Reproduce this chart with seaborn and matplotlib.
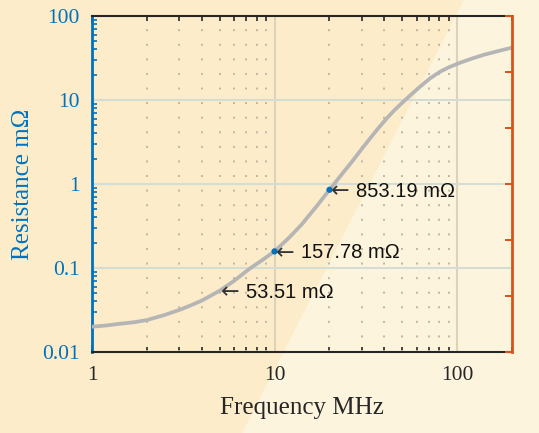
import numpy as np
import pandas as pd
import matplotlib
matplotlib.use("Agg")
import matplotlib.pyplot as plt
from matplotlib.patches import Polygon
from matplotlib.ticker import LogLocator, NullFormatter, FixedLocator, FixedFormatter
import seaborn as sns

# Resistance vs frequency (log-log)
freq_mhz = [1, 1.2, 1.4, 1.7, 2, 2.5, 3, 3.5, 4, 5, 6, 7.3, 8.5, 10, 12, 14,
            17, 20, 23, 27, 30, 33.4, 37, 41.2, 45.5, 50.8, 56, 62.7, 71.1,
            80.7, 90, 104, 120, 140, 170, 200]
resistance_mohm = [0.0200, 0.0207, 0.0216, 0.0226, 0.0240, 0.0276, 0.0316,
                   0.0361, 0.041, 0.0535, 0.0703, 0.098, 0.1228, 0.15778,
                   0.229, 0.325, 0.543, 0.85319, 1.25, 1.93, 2.60, 3.50, 4.60,
                   6.05, 7.6, 9.55, 11.6, 14.4, 18.1, 21.7, 24.5, 27.8, 31.0,
                   34.5, 38.5, 42.0]

# Labelled samples
label_freq = [5, 10, 20]
label_res = [0.05351, 0.15778, 0.85319]
label_dot = [False, True, True]

x_ticks = [1, 10, 100]
x_ticklabels = ["1", "10", "100"]
y_ticks = [0.01, 0.1, 1, 10, 100]
y_ticklabels = ["0.01", "0.1", "1", "10", "100"]

BLUE = "#0072BD"
ORANGE = "#D95319"
DARK_BG = "#FCECC9"
LIGHT_BG = "#FDF4DD"
CURVE = "#B5B5B5"

sns.set_style("ticks")
plt.rcParams["font.family"] = ["Liberation Serif", "DejaVu Serif"]
plt.rcParams["mathtext.fontset"] = "dejavusans"

fig = plt.figure(figsize=(5.39, 4.33), dpi=100)
fig.patch.set_facecolor(DARK_BG)
W, H = 539, 433
light = Polygon([(464 / W, 1), (1, 1), (1, 0), (242 / W, 0)], closed=True,
                transform=fig.transFigure, facecolor=LIGHT_BG, edgecolor="none",
                zorder=-5)
fig.patches.append(light)

ax = fig.add_axes([92 / W, 1 - 352 / H, (512 - 92) / W, (352 - 16) / H])
ax.set_facecolor("none")
ax.set_xscale("log")
ax.set_yscale("log")
ax.set_xlim(1, 200)
ax.set_ylim(0.01, 100)

# grid: dotted minor verticals, solid decade lines
minor_x = [m * d for d in (1, 10, 100) for m in range(2, 10) if m * d < 200]
for xv in minor_x:
    ax.axvline(xv, color="#BDB7A6", lw=1.4, ls=(0, (1, 6.5)), zorder=1)
for xv in (10, 100):
    ax.axvline(xv, color="#DDD3BC", lw=1.5, zorder=1)
for yv in (0.1, 1, 10):
    ax.axhline(yv, color="#D3DDD4", lw=1.5, zorder=1)

df = pd.DataFrame({"Frequency": freq_mhz, "Resistance": resistance_mohm})
sns.lineplot(data=df, x="Frequency", y="Resistance", ax=ax, color=CURVE,
             lw=2.7, zorder=3, sort=True)

dots = pd.DataFrame({"f": [f for f, d in zip(label_freq, label_dot) if d],
                     "r": [r for r, d in zip(label_res, label_dot) if d]})
sns.scatterplot(data=dots, x="f", y="r", ax=ax, color=BLUE, s=20,
                edgecolor="none", zorder=4)

for f, r in zip(label_freq, label_res):
    # arrow glyph pointing at the sample, value text to its right
    ax.annotate("$\\leftarrow$", xy=(f, r), xytext=(-2.5, -1),
                textcoords="offset points", ha="left", va="center",
                fontsize=16, color="#333333", zorder=5)
    ax.annotate(f"{r * 1000:.2f} m\u03a9", xy=(f, r), xytext=(19, -1),
                textcoords="offset points", ha="left", va="center",
                fontsize=14.5, color="#111111",
                family=["Liberation Sans", "DejaVu Sans"], zorder=5)

ax.xaxis.set_major_locator(FixedLocator(x_ticks))
ax.xaxis.set_major_formatter(FixedFormatter(x_ticklabels))
ax.xaxis.set_minor_locator(LogLocator(base=10, subs=np.arange(2, 10)))
ax.xaxis.set_minor_formatter(NullFormatter())
ax.yaxis.set_major_locator(FixedLocator(y_ticks))
ax.yaxis.set_major_formatter(FixedFormatter(y_ticklabels))
ax.yaxis.set_minor_locator(LogLocator(base=10, subs=np.arange(2, 10)))
ax.yaxis.set_minor_formatter(NullFormatter())

ax.tick_params(axis="x", which="both", direction="in", top=True, bottom=True,
               colors="#262626", labelsize=15.5, pad=10)
ax.tick_params(axis="x", which="major", length=5, width=1.2)
ax.tick_params(axis="x", which="minor", length=3.5, width=1.2)
ax.tick_params(axis="y", which="both", direction="in", left=True, right=False,
               colors=BLUE, labelsize=15.5, pad=9)
ax.tick_params(axis="y", which="major", length=6, width=1.4)
ax.tick_params(axis="y", which="minor", length=3.5, width=1.2)

for side in ("top", "bottom"):
    ax.spines[side].set_color("#262626")
    ax.spines[side].set_linewidth(1.5)
ax.spines["left"].set_color(BLUE)
ax.spines["left"].set_linewidth(2.0)
ax.spines["right"].set_visible(False)

ax.set_xlabel("Frequency MHz", fontsize=18, color="#262626", labelpad=9)
ax.set_ylabel("Resistance m\u03a9", fontsize=18, color=BLUE, labelpad=6)

# secondary right axis (unlabelled)
ax2 = ax.twinx()
ax2.set_ylim(0, 6)
ax2.set_yticks(range(7))
ax2.set_yticklabels([])
for side in ("top", "bottom", "left"):
    ax2.spines[side].set_visible(False)
ax2.spines["right"].set_color(ORANGE)
ax2.spines["right"].set_linewidth(2.0)
ax2.tick_params(axis="y", direction="in", colors=ORANGE, length=5, width=1.4)
ax2.set_facecolor("none")

fig.savefig("out.png", dpi=100, facecolor=fig.get_facecolor())
